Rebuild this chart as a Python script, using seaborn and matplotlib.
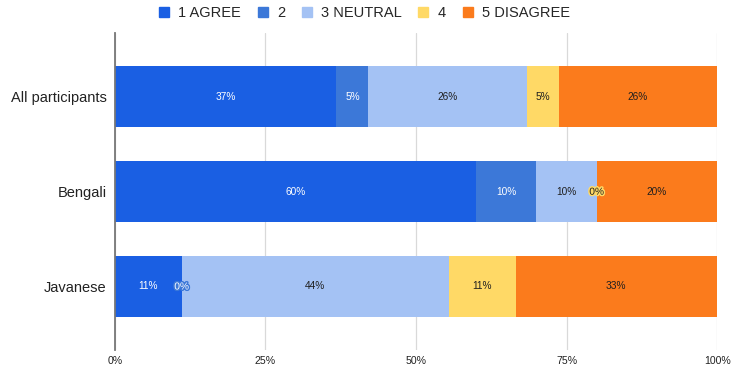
import matplotlib
matplotlib.use("Agg")
import matplotlib.pyplot as plt
import matplotlib.patheffects as pe
from matplotlib import font_manager as fm
from matplotlib.lines import Line2D
import numpy as np
import pandas as pd
import seaborn as sns

groups = ["All participants", "Bengali", "Javanese"]
categories = ["1 AGREE", "2", "3 NEUTRAL", "4", "5 DISAGREE"]
colors = ["#1a5fe3", "#3c78d8", "#a4c2f4", "#ffd966", "#fb7b1c"]
text_colors = ["white", "white", "#1f1f1f", "#1f1f1f", "#1f1f1f"]
values = {
    "1 AGREE":    [36.8, 60.0, 11.1],
    "2":          [5.3, 10.0, 0.0],
    "3 NEUTRAL":  [26.3, 10.0, 44.4],
    "4":          [5.3, 0.0, 11.1],
    "5 DISAGREE": [26.3, 20.0, 33.3],
}
xticks = [0, 25, 50, 75, 100]
xticklabels = ["0%", "25%", "50%", "75%", "100%"]

sns.set_style("white")

fam = "DejaVu Sans"
for f in fm.fontManager.ttflist:
    if f.name == "Liberation Sans" and f.style == "normal" and f.weight in (400, "normal") \
            and "Narrow" not in f.fname:
        fam = f.name
        break
plt.rcParams["font.family"] = [fam, "DejaVu Sans"]

fig = plt.figure(figsize=(7.31, 3.67), dpi=100)
ax = fig.add_axes([0.157, 0.0463, 0.824, 0.864])

df = pd.DataFrame(values, index=groups)
cum = df.cumsum(axis=1)

for cat, col in reversed(list(zip(categories, colors))):
    d = pd.DataFrame({"group": groups, "val": cum[cat].values})
    sns.barplot(data=d, x="val", y="group", color=col, orient="h",
                width=0.645, ax=ax, saturation=1, zorder=3, linewidth=0)

for i, g in enumerate(groups):
    for j, cat in enumerate(categories):
        v = df.loc[g, cat]
        center = cum.loc[g, cat] - v / 2
        t = ax.text(center, i, f"{v:.0f}%", ha="center", va="center",
                    fontsize=7.3, color=text_colors[j], zorder=5)
        if v == 0:
            t.set_path_effects([pe.withStroke(linewidth=2.2, foreground=colors[j])])

ax.set_xlim(0, 100)
ax.set_ylim(2.67, -0.675)
ax.set_xticks(xticks)
ax.set_xticklabels(xticklabels, fontsize=7.6, color="#222222")
ax.tick_params(axis="y", labelsize=10.5, colors="#222222", length=0, pad=6)
ax.tick_params(axis="x", length=0, pad=4)
ax.set_xlabel("")
ax.set_ylabel("")
ax.grid(axis="x", color="#d9d9d9", linewidth=0.9, zorder=0)
ax.set_axisbelow(True)
for s in ["top", "right", "bottom"]:
    ax.spines[s].set_visible(False)
ax.spines["left"].set_color("#777777")
ax.spines["left"].set_linewidth(1.3)
ax.spines["left"].set_zorder(6)

handles = [Line2D([0], [0], marker="s", linestyle="", markersize=6.5,
                  markerfacecolor=c, markeredgecolor=c) for c in colors]
fig.legend(handles, categories, loc="center", bbox_to_anchor=(0.497, 0.965),
           ncol=5, frameon=False, fontsize=10.5, handletextpad=0.5,
           columnspacing=0.97, handlelength=1.0)

fig.savefig("out.png", dpi=100)
